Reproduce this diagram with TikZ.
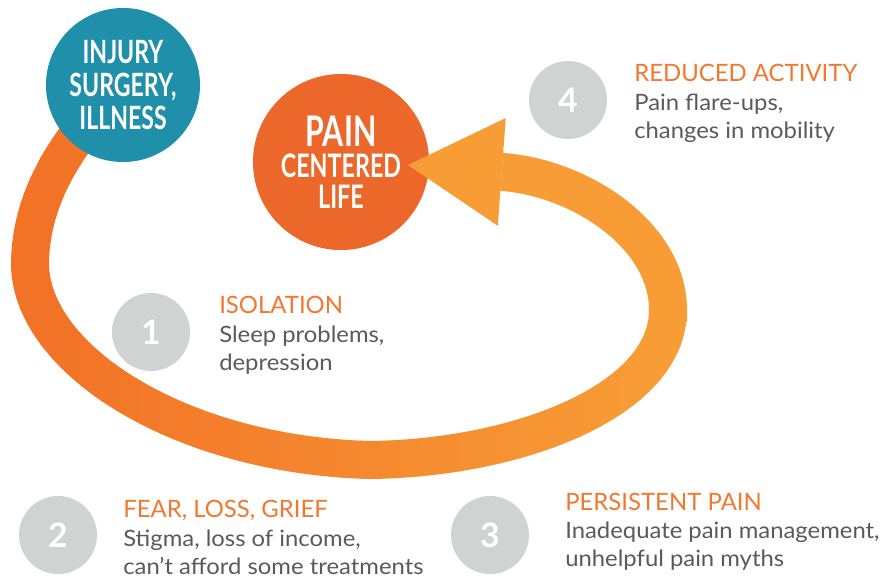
\documentclass[tikz,border=0pt]{standalone}
\usepackage{fontspec}
\setmainfont{Lato}
\newfontfamily\condfont[FakeStretch=0.72]{Lato}
\newfontfamily\headfont{Lato}
\newfontfamily\bodyfont[FakeStretch=1.06]{Lato}
\usetikzlibrary{arrows.meta,backgrounds,calc}
\definecolor{bandL}{HTML}{F27226}
\definecolor{bandR}{HTML}{F89D36}
\definecolor{tealC}{HTML}{208FAA}
\definecolor{painC}{HTML}{EC672A}
\definecolor{numgrey}{HTML}{D1D3D2}
\definecolor{headorange}{HTML}{F1782E}
\definecolor{bodygrey}{HTML}{595A5C}
\tikzset{
  band/.style={line width=0.95cm},
  bigdot/.style={circle, inner sep=0pt, text=white, align=center},
  numdot/.style={circle, fill=numgrey, minimum size=1.95cm, inner sep=0pt, text=white,
    font=\bfseries\fontsize{24}{24}\selectfont},
  stephead/.style={anchor=base west, inner sep=0pt, text=headorange,
    font=\headfont\fontsize{17}{20}\selectfont},
  stepbody/.style={anchor=base west, inner sep=0pt, align=left, text=bodygrey,
    font=\bodyfont\fontsize{16}{19.6}\selectfont},
}
\newcommand{\bandcurve}{(inj.center) .. controls (55,150) and (30,210) .. (30,265)
  .. controls (32,360) and (180,455) .. (370,460)
  .. controls (520,458) and (668,400) .. (turn)}
\begin{document}
\begin{tikzpicture}[x=0.025cm,y=-0.025cm]
  \useasboundingbox (0,0) rectangle (888,579);
  % the two big circles
  \node[bigdot, fill=tealC, minimum size=3.85cm, font=\condfont\bfseries\fontsize{22.8}{23.5}\selectfont]
    (inj) at (123,85) {INJURY\\SURGERY,\\ILLNESS};
  \node[bigdot, fill=painC, minimum size=4.4cm, font=\condfont\bfseries\fontsize{23}{22}\selectfont]
    (pain) at (341,162) {{\fontsize{30}{22}\selectfont PAIN}\\CENTERED\\LIFE};
  \coordinate (turn) at (668,310);
  \coordinate (tip) at (408,165);
  % loop, shaded in strips
  \begin{scope}[on background layer]
    \foreach \i in {0,...,35} {
      \pgfmathsetmacro\pct{max(0,min(100,(\i*20-20)/6.38))}
      \begin{scope}
        \clip (\i*20,0) rectangle (\i*20+21,579);
        \draw[band, draw=bandR!\pct!bandL] \bandcurve;
      \end{scope}
    }
  \end{scope}
  \draw[band, draw=bandR, -{Triangle[length=2.35cm,width=2.7cm,line width=0pt]}]
    (668,322) -- (turn) .. controls (668,235) and (580,178) .. (503,172) -- (tip);
  % steps (body nodes sit on their last baseline)
  \node[numdot] (n1) at (151,332) {1};
  \node[numdot] (n2) at (58,535) {2};
  \node[numdot] (n3) at (490,535) {3};
  \node[numdot] (n4) at (568,100) {4};
  \node[stephead] (h1) at (219,313) {ISOLATION};
  \node[stepbody] (b1) at (219,370) {Sleep problems,\\depression};
  \node[stephead] (h2) at (123,517) {FEAR, LOSS, GRIEF};
  \node[stepbody] (b2) at (123,574) {Stigma, loss of income,\\can’t afford some treatments};
  \node[stephead] (h3) at (565,510) {PERSISTENT PAIN};
  \node[stepbody] (b3) at (565,566) {Inadequate pain management,\\unhelpful pain myths};
  \node[stephead] (h4) at (634,81) {REDUCED ACTIVITY};
  \node[stepbody] (b4) at (634,138) {Pain flare-ups,\\changes in mobility};
\end{tikzpicture}
\end{document}
